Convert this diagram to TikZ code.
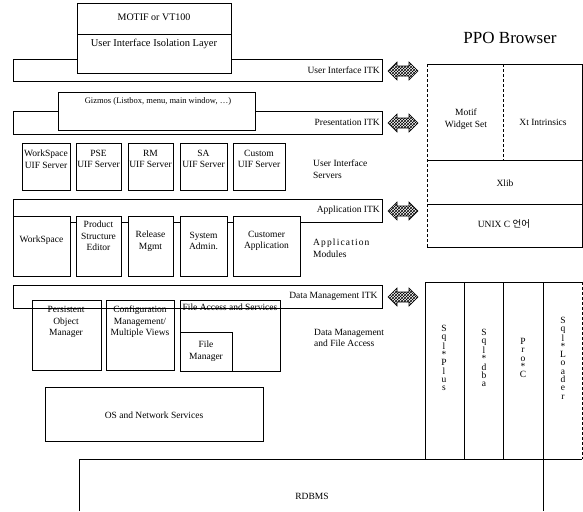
\documentclass[tikz,border=0pt]{standalone}
\usepackage{fontspec}
\setmainfont{Liberation Serif}
\newfontfamily\krfont{Noto Sans CJK KR}
\usepackage{tikz}
\usetikzlibrary{patterns}

\begin{document}
\begin{tikzpicture}[x=1pt, y=-1pt,
	every node/.style={font=\fontsize{9.5}{11.5}\selectfont, inner sep=0pt, align=center},
	frame/.style={line width=0.6pt},
	whitebox/.style={frame, fill=white},
	itklabel/.style={anchor=east},
	sidelabel/.style={anchor=west, align=left},
	stack/.style={font=\fontsize{9.5}{8.3}\selectfont},
	hatch/.style={line width=0.6pt, pattern=crosshatch}]
	\useasboundingbox (0,0) rectangle (583,511);
	
	% ITK bars with their labels
	\foreach \ya/\yb/\name/\txt in {
		59/81/uiitk/User Interface ITK,
		111/134/pritk/Presentation ITK,
		199/222/apitk/Application ITK,
		285/308/dmitk/Data Management ITK
	}
	{
		\draw [frame] (13,\ya) rectangle (382,\yb);
		\node [itklabel] (\name) at (380,{(\ya+\yb)/2}) {\txt};
	}
	
	% hatched arrows towards the PPO Browser
	\foreach \y in {71,123,211,297}
	{
		\draw [hatch] (388,\y) -- (397,\y-9) -- (397,\y-5) -- (409,\y-5) -- (409,\y-9) -- (418,\y)
			-- (409,\y+9) -- (409,\y+5) -- (397,\y+5) -- (397,\y+9) -- cycle;
	}
	
	% MOTIF box and isolation layer
	\draw [whitebox] (77,3) rectangle (231,73);
	\draw [frame] (77,34) -- (231,34);
	\node [font=\fontsize{10}{12}\selectfont] (motif) at (154,17) {MOTIF or VT100};
	\node [font=\fontsize{10.5}{12}\selectfont] (isolation) at (154,44) {User Interface Isolation Layer};
	
	% gizmos
	\draw [whitebox] (58,92) rectangle (255,130);
	\node [font=\fontsize{8.5}{10}\selectfont] (gizmos) at (158,101) {Gizmos (Listbox, menu, main window, \ldots)};
	
	% UIF servers
	\foreach \xa/\xb/\name/\txt in {
		22/70/wsuif/WorkSpace,
		76/121/pseuif/PSE,
		128/173/rmuif/RM,
		180/227/sauif/SA,
		233/285/cuuif/Custom
	}
	{
		\draw [frame] (\xa,143) rectangle (\xb,190);
		\node (\name) at ({(\xa+\xb)/2},159) {\txt\\UIF Server};
	}
	\node [sidelabel] (uiservers) at (313,169) {User Interface\\Servers};
	
	% application modules
	\foreach \xa/\xb/\ty/\name/\txt in {
		13/70/240/wsmod/WorkSpace,
		76/121/236/psemod/Product\\Structure\\Editor,
		128/173/241/rmmod/Release\\Mgmt,
		180/227/241/samod/System\\Admin.,
		233/300/241/cumod/Customer\\Application
	}
	{
		\draw [whitebox] (\xa,216) rectangle (\xb,276);
		\node (\name) at ({(\xa+\xb)/2},\ty) {\txt};
	}
	\node [sidelabel] (appmodules) at (313,248) {\addfontfeature{LetterSpace=12}Application\\\normalfont Modules};
	
	% data management boxes
	\draw [frame] (32,300) rectangle (101,370);
	\draw [frame] (106,300) rectangle (174,370);
	\draw [frame] (180,300) rectangle (280,371);
	\draw [frame] (180,332) rectangle (232,371);
	\node (pom) at (66,322) {Persistent\\Object\\Manager};
	\node (cfg) at (140,322) {Configuration\\Management/\\Multiple Views};
	\node (fas) at (230,307) {File Access and Services};
	\node (fm) at (206,351) {File\\Manager};
	\node [sidelabel] (dmlabel) at (314,338) {Data Management\\and File Access};
	
	% OS and RDBMS
	\draw [frame] (45,387) rectangle (263,441);
	\node (os) at (154,415) {OS and Network Services};
	\draw [frame] (79,511) -- (79,459) -- (582,459);
	\draw [frame] (543,459) -- (543,511);
	\node (rdbms) at (312,496) {RDBMS};
	
	% PPO Browser
	\node [font=\fontsize{17}{20}\selectfont] (ppo) at (510,38) {PPO Browser};
	\draw [frame] (427,64) -- (582,64) -- (582,247) -- (427,247);
	\draw [frame, densely dashed] (427,64) -- (427,247);
	\draw [frame, densely dashed] (503,64) -- (503,160);
	\draw [frame] (427,160) -- (582,160);
	\draw [frame] (427,204) -- (582,204);
	\node (motifws) at (466,119) {Motif\\Widget Set};
	\node (xt) at (543,122) {Xt Intrinsics};
	\node (xlib) at (505,183) {Xlib};
	\node (unixc) at (504,224) {UNIX C {\krfont 언어}};
	
	% Sql tools
	\draw [frame] (425,459) -- (425,282) -- (582,282);
	\draw [frame, densely dashed] (582,282) -- (582,459);
	\foreach \x in {464,503,543}
		\draw [frame] (\x,282) -- (\x,459);
	\foreach \x/\name/\txt in {
		444/sqlplus/S\\q\\l\\*\\P\\l\\u\\s,
		484/sqldba/S\\q\\l\\*\\d\\b\\a,
		523/proc/P\\r\\o\\*\\C,
		563/sqlloader/S\\q\\l\\*\\L\\o\\a\\d\\e\\r
	}
	{
		\node [stack] (\name) at (\x,358) {\txt};
	}
\end{tikzpicture}
\end{document}
